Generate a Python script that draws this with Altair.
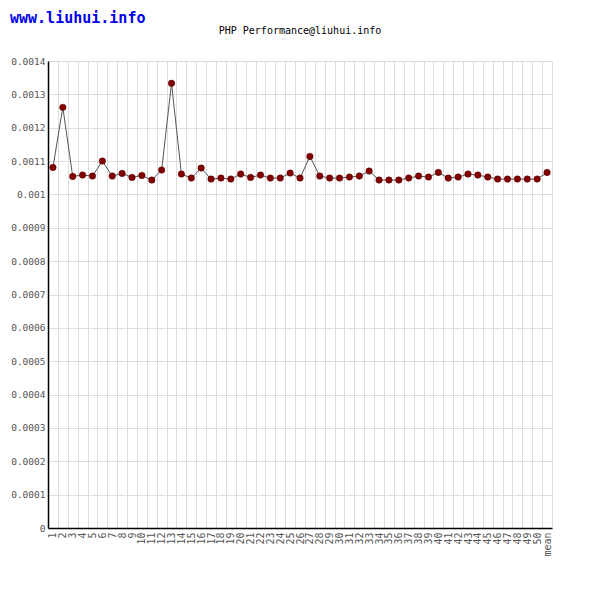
import altair as alt
import pandas as pd

categories = [str(i) for i in range(1, 51)] + ["mean"]
times = [
    0.001081, 0.001261, 0.001054, 0.001058, 0.001055, 0.001100, 0.001055, 0.001063, 0.001051, 0.001057,
    0.001043, 0.001073, 0.001333, 0.001061, 0.001049, 0.001079, 0.001046, 0.001049, 0.001046, 0.001061,
    0.001051, 0.001058, 0.001049, 0.001049, 0.001064, 0.001049, 0.001114, 0.001055, 0.001049, 0.001049,
    0.001052, 0.001055, 0.001070, 0.001043, 0.001043, 0.001043, 0.001049, 0.001055, 0.001052, 0.001066,
    0.001049, 0.001052, 0.001061, 0.001058, 0.001052, 0.001046, 0.001046, 0.001046, 0.001046, 0.001046,
    0.001066,
]
y_ticks = [0, 0.0001, 0.0002, 0.0003, 0.0004, 0.0005, 0.0006, 0.0007,
           0.0008, 0.0009, 0.001, 0.0011, 0.0012, 0.0013, 0.0014]
title_text = "PHP Performance@liuhui.info"
logo_text = "www.liuhui.info"

df = pd.DataFrame({"run": categories, "time": times})

FONT = "DejaVu Sans Mono"

x_enc = alt.X(
    "run:N", sort=categories, title=None,
    scale=alt.Scale(paddingInner=0, paddingOuter=0),
    axis=alt.Axis(labelAngle=270, ticks=False, tickBand="extent", grid=True,
                  gridColor="#dddddd", gridWidth=1, domainColor="#000000", domainWidth=1.5,
                  labelColor="#555555", labelFont=FONT, labelFontSize=10, labelPadding=4),
)
y_enc = alt.Y(
    "time:Q", title=None,
    scale=alt.Scale(domain=[0, 0.0014], nice=False, zero=True),
    axis=alt.Axis(values=y_ticks, format="~g", ticks=False, grid=True,
                  gridColor="#dddddd", gridWidth=1, domainColor="#000000", domainWidth=1.5,
                  labelColor="#555555", labelFont=FONT, labelFontSize=9.5, labelPadding=3),
)

base = alt.Chart(df).encode(x=x_enc, y=y_enc)
line = base.mark_line(color="#555555", strokeWidth=1)
points = base.mark_point(filled=True, shape="circle", size=42, color="#800000", opacity=1,
                         stroke="#5a0000", strokeWidth=0.5)

logo = alt.Chart(pd.DataFrame({"t": [logo_text]})).mark_text(
    align="left", baseline="middle", font=FONT, fontSize=15, fontWeight="bold", color="#0000ee"
).encode(text="t:N", x=alt.value(-38), y=alt.value(-43))

title = alt.Chart(pd.DataFrame({"t": [title_text]})).mark_text(
    align="center", baseline="middle", font=FONT, fontSize=10, color="#000000"
).encode(text="t:N", x=alt.value(252), y=alt.value(-30))

chart = alt.layer(line, points, logo, title).properties(
    width=504, height=467,
    autosize=alt.AutoSizeParams(type="none"),
    padding={"left": 40, "top": 53, "right": 40, "bottom": 64},
).configure_view(stroke="#dddddd", strokeWidth=1).configure(background="#ffffff")

chart.save("out.html", embed_options={"renderer": "svg", "actions": False})
